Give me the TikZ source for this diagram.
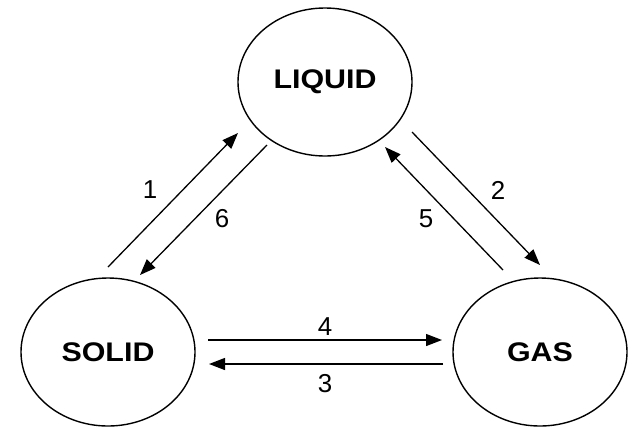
\documentclass[tikz,border=0pt]{standalone}
\usepackage{fontspec}
\setmainfont{Liberation Sans}
\usetikzlibrary{shapes.geometric,arrows.meta}
\tikzset{
  phase/.style={draw=black, line width=1.4bp, ellipse, minimum width=174bp, minimum height=148bp, inner sep=0pt,
    font=\fontsize{27}{30}\selectfont\bfseries},
  flow/.style={line width=1.3bp, -{Triangle[length=16bp,width=12bp]}},
  num/.style={font=\fontsize{26}{30}\selectfont, inner sep=0pt}
}
\begin{document}
\begin{tikzpicture}[x=1bp,y=-1bp]
\useasboundingbox (0,0) rectangle (635,427);
\node[phase] (liquid) at (325,82) {\scalebox{1.13}[1]{LIQUID}};
\node[phase] (solid) at (108,352) {\scalebox{1.13}[1]{SOLID}};
\node[phase] (gas) at (540,352) {\scalebox{1.13}[1]{GAS}};
% end points
\coordinate (a1) at (108,267); \coordinate (b1) at (238,133);
\coordinate (a6) at (267,145); \coordinate (b6) at (140,275);
\coordinate (a2) at (412,132); \coordinate (b2) at (540,265);
\coordinate (a5) at (503,270); \coordinate (b5) at (385,147);
\coordinate (a4) at (208,340); \coordinate (b4) at (442,340);
\coordinate (a3) at (443,364); \coordinate (b3) at (209,364);
\draw[flow] (a1) -- (b1);
\draw[flow] (a6) -- (b6);
\draw[flow] (a2) -- (b2);
\draw[flow] (a5) -- (b5);
\draw[flow] (a4) -- (b4);
\draw[flow] (a3) -- (b3);
\node[num] (n1) at (150,190) {1};
\node[num] (n6) at (222,219) {6};
\node[num] (n2) at (498,190) {2};
\node[num] (n5) at (426,219) {5};
\node[num] (n4) at (325,327) {4};
\node[num] (n3) at (325,384) {3};
\end{tikzpicture}
\end{document}
